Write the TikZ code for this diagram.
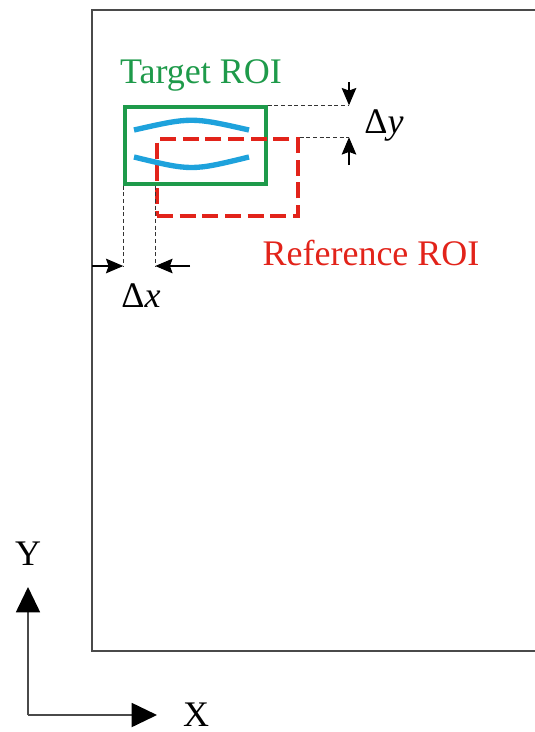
\documentclass[tikz,border=0pt]{standalone}
\usepackage{fontspec}
\setmainfont{Liberation Serif}
\usetikzlibrary{positioning,arrows.meta,calc}
\definecolor{roigreen}{HTML}{1E9A4A}
\definecolor{roired}{HTML}{E2231A}
\definecolor{roiblue}{HTML}{1EA2DC}
\definecolor{framegray}{HTML}{4A4A4A}

\begin{document}
\begin{tikzpicture}[
      x=0.75pt, y=-0.75pt,
      font=\fontsize{27}{32}\selectfont,
      roi/.style={minimum width=105.75pt, minimum height=57.75pt,
                  inner sep=0pt, line width=2.6pt},
      tgtroi/.style={roi, draw=roigreen},
      refroi/.style={roi, draw=roired, dash pattern=on 12pt off 5pt},
      lens/.style={draw=roiblue, line width=4pt},
      guide/.style={draw=black!80, line width=0.8pt, dash pattern=on 3pt off 2pt},
      darr/.style={-{Stealth[length=13pt, width=11pt, inset=2pt, color=black]}, line width=0.8pt},
      axarr/.style={-{Triangle[length=19pt, width=18pt, color=black]}, draw=framegray, line width=1.4pt},
      lbl/.style={anchor=base, inner sep=0pt}
    ]
    \useasboundingbox (0,0) rectangle (535,732);

    % image frame (cut at the right edge)
    \draw[framegray, line width=1.4pt] (535,10) -- (92,10) -- (92,651) -- (535,651);

    % ROIs
    \node[tgtroi] (tgt) at (195.5,145.5) {};
    \node[refroi] (ref) at (227.5,177.5) {};
    \node[lbl, text=roigreen] (tgtlbl) at (201,83) {Target ROI};
    \node[lbl, text=roired] (reflbl) at (371,265) {Reference ROI};

    % lens edges
    \draw[lens] (134,130) .. controls (191.5,117) .. (249,130);
    \draw[lens] (134,157) .. controls (191.5,171) .. (249,157);

    % delta y
    \coordinate (dytop) at (349,82);
    \coordinate (dybot) at (349,165);
    \draw[guide] (tgt.north east) -- (tgt.north east -| dytop);
    \draw[guide] (ref.north east) -- (ref.north east -| dybot);
    \draw[darr] (dytop) -- (tgt.north east -| dytop);
    \draw[darr] (dybot) -- (ref.north east -| dybot);
    \node[lbl] (dylbl) at (384,133) {Δ\textit{y}};

    % delta x
    \coordinate (dxleft) at (92,266);
    \coordinate (dxright) at (190,266);
    \draw[guide] (tgt.south west) -- (tgt.south west |- dxleft);
    \draw[guide] (ref.west |- tgt.south) -- (ref.west |- dxleft);
    \draw[darr] (dxleft) -- (tgt.south west |- dxleft);
    \draw[darr] (dxright) -- (ref.west |- dxright);
    \node[lbl] (dxlbl) at (141,307) {Δ\textit{x}};

    % axes
    \coordinate (orig) at (28,715);
    \coordinate (ytip) at (28,587);
    \coordinate (xtip) at (157,715);
    \draw[axarr] (orig) -- (ytip);
    \draw[axarr] (orig) -- (xtip);
    \node[lbl] (ylbl) at (28,565) {Y};
    \node[lbl] (xlbl) at (196,726) {X};
  \end{tikzpicture}
\end{document}
